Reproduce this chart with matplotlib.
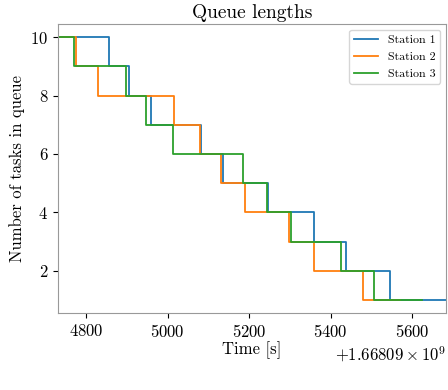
import matplotlib
matplotlib.use('Agg')
import matplotlib.pyplot as plt
import numpy as np

plt.rcParams['font.family'] = ['cmr10', 'DejaVu Serif']
plt.rcParams['mathtext.fontset'] = 'cm'
plt.rcParams['axes.formatter.use_mathtext'] = True

# start offset of the unix timestamps
T_OFFSET = 1668090000

queue_sizes = [10, 9, 8, 7, 6, 5, 4, 3, 2, 1]

# times (relative to offset) at which each queue size starts, plus end time
station1_times = [4731, 4855, 4905, 4960, 5082, 5137, 5246, 5359, 5437, 5546, 5683]
station2_times = [4731, 4774, 4829, 5016, 5080, 5130, 5189, 5299, 5358, 5479, 5570]
station3_times = [4731, 4771, 4898, 4947, 5013, 5184, 5245, 5302, 5425, 5507, 5623]

stations = {
    'Station 1': station1_times,
    'Station 2': station2_times,
    'Station 3': station3_times,
}

fig = plt.figure(figsize=(4.48, 3.9), dpi=100)
ax = fig.add_axes([0.1295, 0.197, 0.866, 0.7415])

for name, times in stations.items():
    t = np.array(times) + T_OFFSET
    y = queue_sizes + [queue_sizes[-1]]
    ax.step(t, y, where='post', label=name, lw=1.3)

ax.set_xlim(station1_times[0] + T_OFFSET, station1_times[-1] + T_OFFSET)
ax.set_yticks([2, 4, 6, 8, 10])
ax.set_title('Queue lengths', fontsize=14, pad=4)
ax.set_xlabel('Time [s]', fontsize=12, labelpad=1)
ax.set_ylabel('Number of tasks in queue', fontsize=12)
ax.tick_params(labelsize=12)
ax.xaxis.get_offset_text().set_fontsize(12)

for spine in ax.spines.values():
    spine.set_color('#999999')

ax.legend(loc='upper right', fontsize=8.6, labelspacing=0.55)

fig.savefig('out.png', dpi=100)
